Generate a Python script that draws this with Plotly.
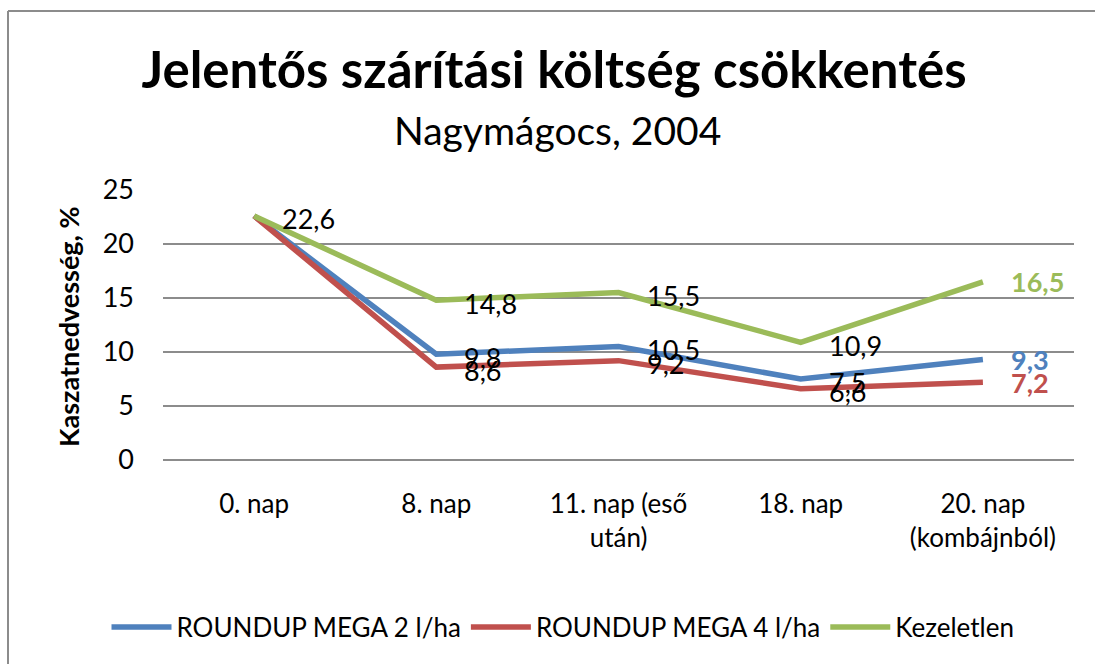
import plotly.graph_objects as go

categories = ["0. nap", "8. nap", "11. nap (eső<br>után)", "18. nap", "20. nap<br>(kombájnból)"]
series_names = ["ROUNDUP MEGA 2 l/ha", "ROUNDUP MEGA 4 l/ha", "Kezeletlen"]
rm2 = [22.6, 9.8, 10.5, 7.5, 9.3]
rm4 = [22.6, 8.6, 9.2, 6.6, 7.2]
kez = [22.6, 14.8, 15.5, 10.9, 16.5]
colors = ["#4F81BD", "#C0504D", "#9BBB59"]
y_ticks = [0, 5, 10, 15, 20, 25]

FONT = "Lato"
fig = go.Figure()
all_series = [rm2, rm4, kez]
for name, vals, col in zip(series_names, all_series, colors):
    fig.add_trace(go.Scatter(x=categories, y=vals, mode="lines", name=name,
                             line=dict(color=col, width=5.5)))

annotations = []
# data labels
for si, (vals, col) in enumerate(zip(all_series, colors)):
    for i, v in enumerate(vals):
        if i == 0 and si != 2:
            continue
        last = i == len(vals) - 1
        txt = f"{v:.1f}".replace(".", ",")
        if last:
            txt = f"<b>{txt}</b>"
        annotations.append(dict(x=categories[i], y=v, xref="x", yref="y", text=txt,
                                showarrow=False, xanchor="left", yanchor="middle",
                                xshift=26, yshift=-3 if not last else 0,
                                font=dict(family=FONT, size=27,
                                          color=col if last else "#000000")))

annotations.append(dict(text="Nagymágocs, 2004", x=(557 - 163) / 911, y=(460 - 130) / 270,
                        xref="paper", yref="paper",
                        showarrow=False, font=dict(family=FONT, size=39, color="#000"),
                        xanchor="center", yanchor="middle"))
annotations.append(dict(text="<b>Kaszatnedvesség, %</b>", x=(68 - 163) / 911, y=(460 - 327) / 270,
                        xref="paper", yref="paper", textangle=-90, showarrow=False,
                        font=dict(family=FONT, size=27, color="#000"),
                        xanchor="center", yanchor="middle"))

bx0 = (8 - 163) / 911
by1 = (460 - 11) / 270
fig.update_layout(
    width=1095, height=664,
    margin=dict(l=163, r=21, t=190, b=204),
    paper_bgcolor="white", plot_bgcolor="white",
    title=dict(text="<b>Jelentős szárítási költség csökkentés</b>", x=554 / 1095, xanchor="center",
               y=1 - 70 / 664, yanchor="middle", xref="container", yref="container",
               font=dict(family=FONT, size=51, color="#000")),
    xaxis=dict(showgrid=False, showline=False, zeroline=False, ticks="",
               tickfont=dict(family=FONT, size=26, color="#000"), ticklabelstandoff=26,
               range=[-0.5, 4.5]),
    yaxis=dict(range=[0, 25], tickvals=y_ticks, showgrid=True, gridcolor="#8C8C8C", gridwidth=2,
               zeroline=True, zerolinecolor="#8C8C8C", zerolinewidth=2, showline=False, ticks="",
               tickfont=dict(family=FONT, size=27, color="#000"), ticklabelstandoff=28),
    legend=dict(orientation="h", x=(563 - 163) / 911, xanchor="center", y=(460 - 627) / 270, yanchor="middle",
                font=dict(family=FONT, size=26, color="#000"), itemwidth=60, tracegroupgap=0),
    showlegend=True,
    annotations=annotations,
    shapes=[
        dict(type="line", xref="paper", yref="paper", x0=bx0, x1=bx0, y0=(460 - 800) / 270, y1=by1,
             line=dict(color="#8C8C8C", width=2), layer="below"),
        dict(type="line", xref="paper", yref="paper", x0=bx0, x1=(1400 - 163) / 911, y0=by1, y1=by1,
             line=dict(color="#8C8C8C", width=2), layer="below"),
    ],
)

fig.write_html("out.html")
